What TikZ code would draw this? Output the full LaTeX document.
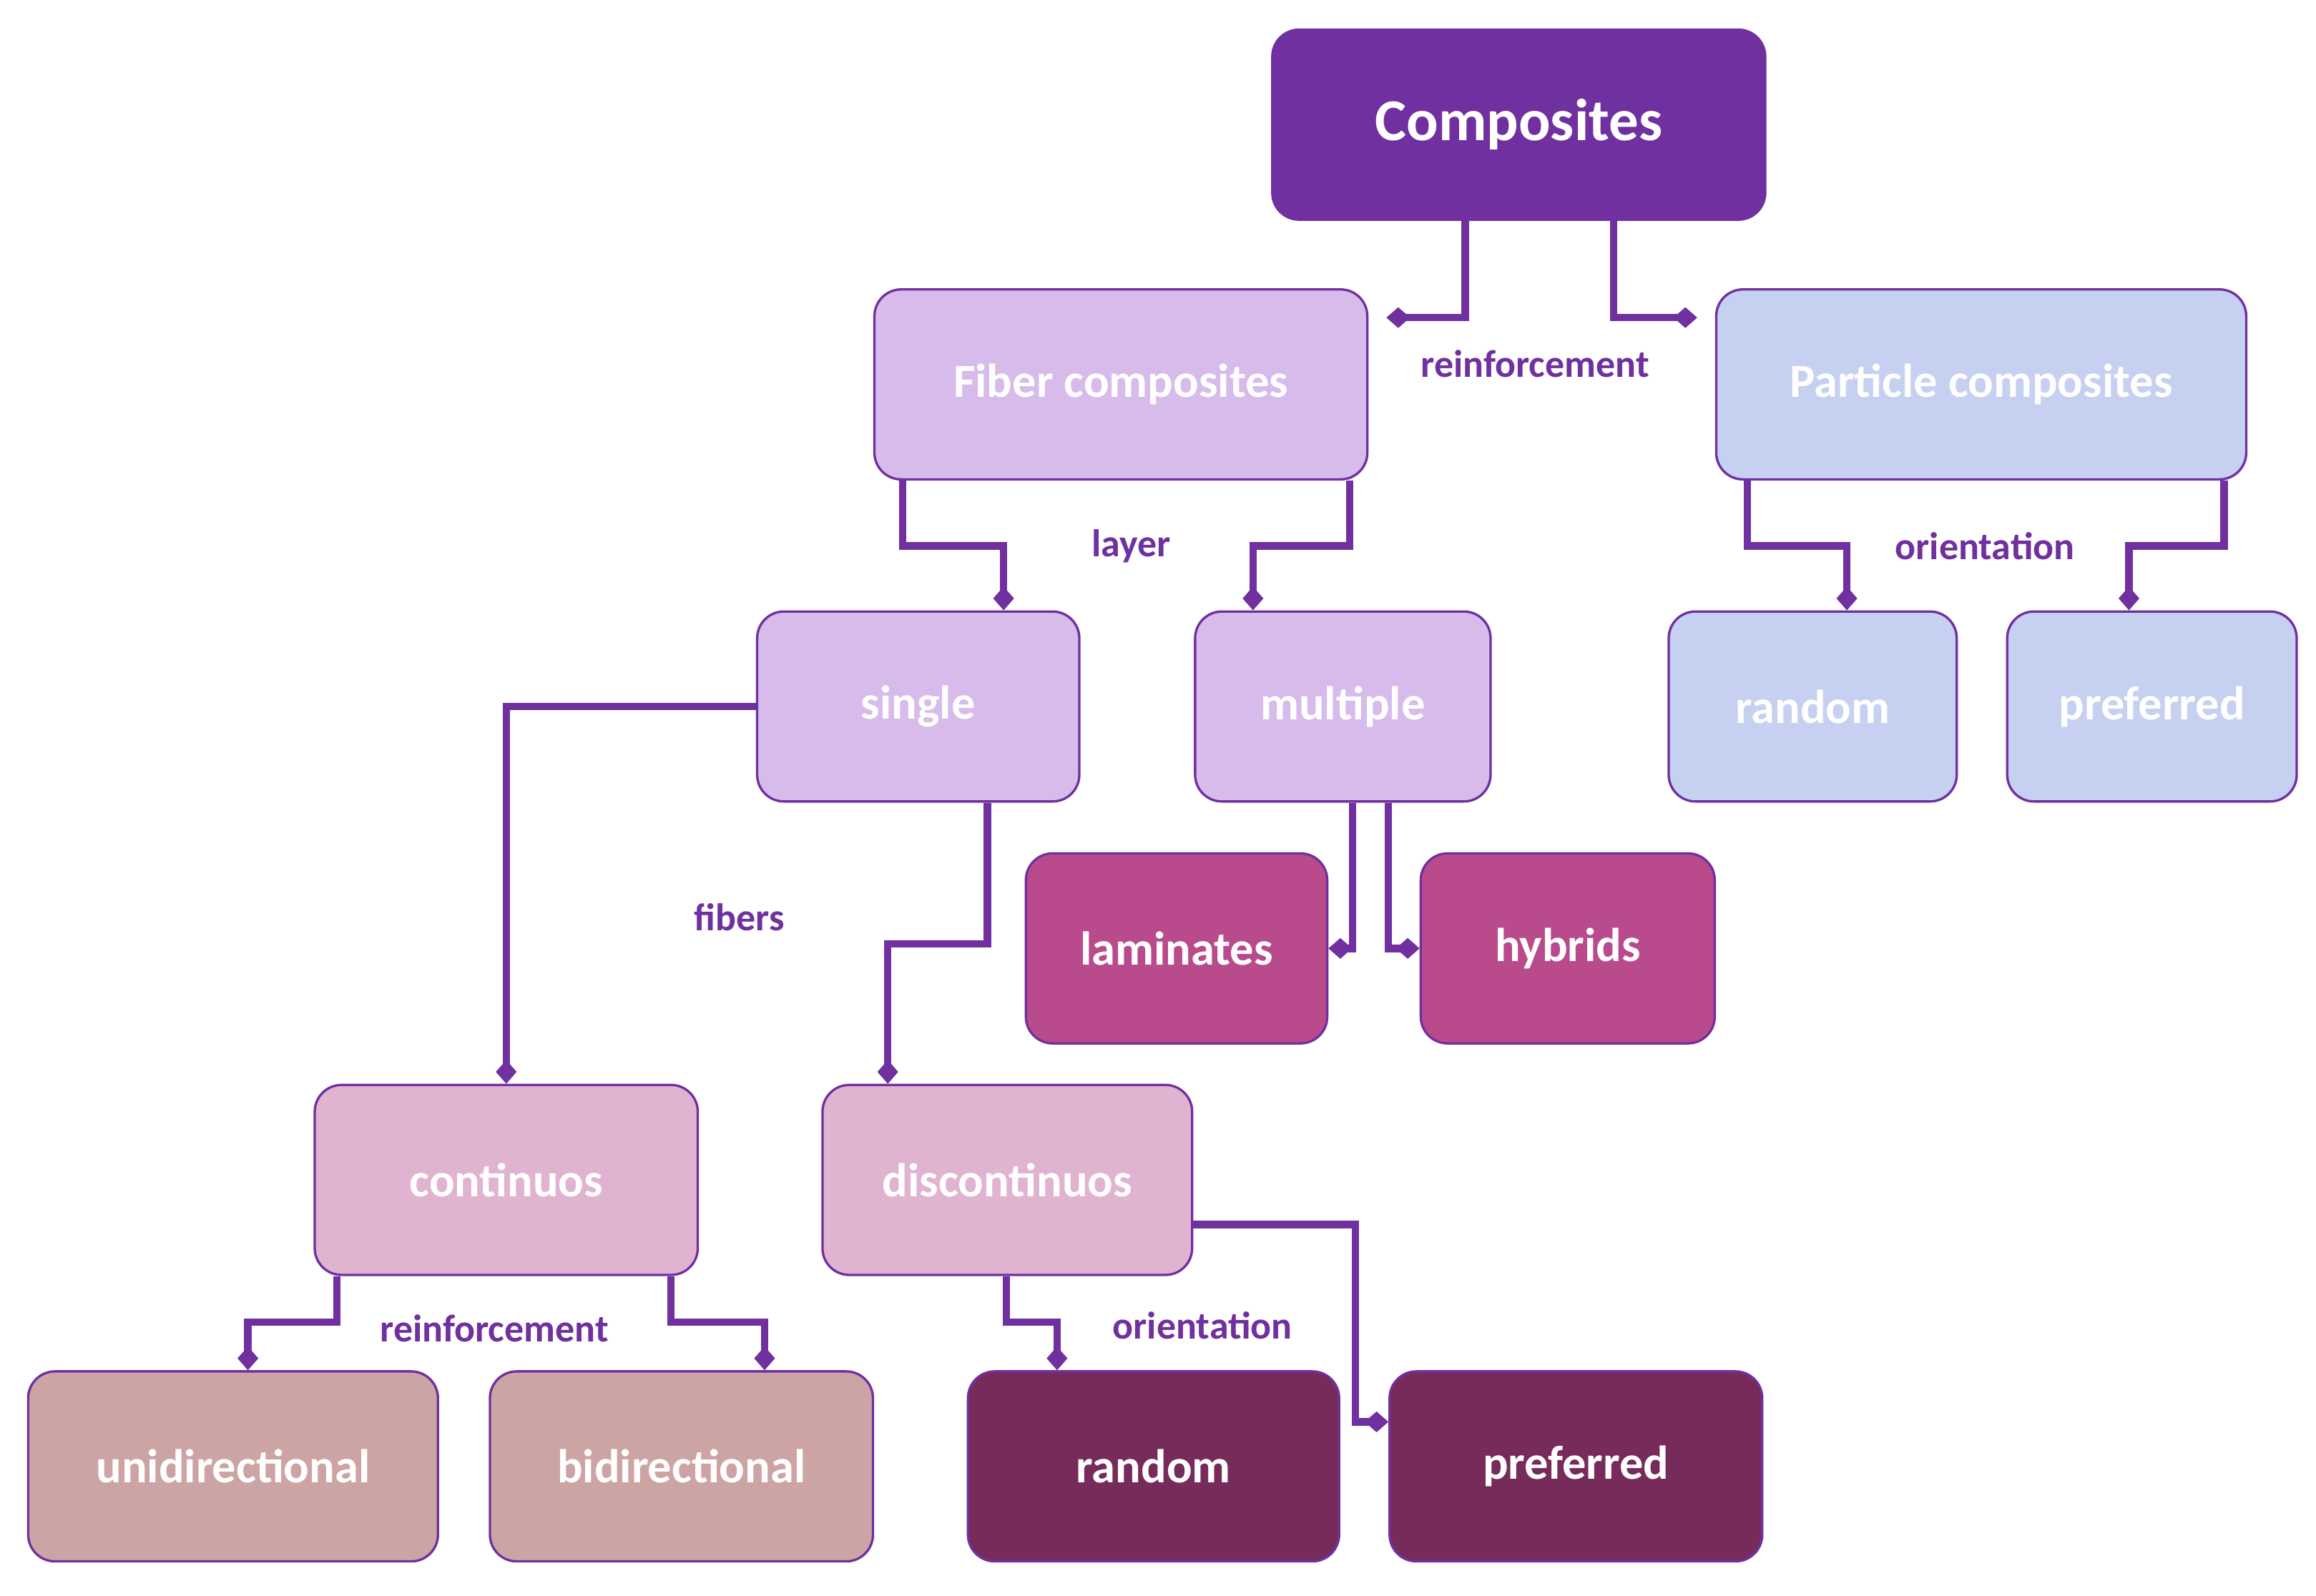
\documentclass[tikz,border=0pt]{standalone}
\usepackage{fontspec}
\setmainfont{Carlito}
\usetikzlibrary{arrows.meta}
\definecolor{pur}{HTML}{7030A0}
\definecolor{cFib}{HTML}{D7BBEA}
\definecolor{cPar}{HTML}{C6D0F0}
\definecolor{cLam}{HTML}{B94B8C}
\definecolor{cCon}{HTML}{E0B4D0}
\definecolor{cUni}{HTML}{CDA4A4}
\definecolor{cRan}{HTML}{772B5A}
\begin{document}
\begin{tikzpicture}[x=0.5pt,y=-0.5pt,
 box/.style={draw=pur,line width=0.8pt,rounded corners=9pt,minimum height=64pt,inner sep=0pt,text=white,font=\bfseries\fontsize{16}{18}\selectfont},
 conn/.style={draw=pur,line width=2.5pt,-{Diamond[length=8pt,width=7pt]}},
 lab/.style={text=pur,font=\bfseries\fontsize{13}{15}\selectfont}]
\useasboundingbox (0,0) rectangle (1560,1075);
\node[box,fill=pur,minimum width=166pt,font=\bfseries\fontsize{20}{24}\selectfont] (comp) at (1023,84) {Composites};
\node[box,fill=cFib,minimum width=166pt] (fib) at (755,259) {Fiber composites};
\node[box,fill=cPar,minimum width=178.5pt] (par) at (1334.5,259) {Particle composites};
\node[box,fill=cFib,minimum width=108.5pt] (sin) at (618.5,476) {single};
\node[box,fill=cFib,minimum width=99.5pt] (mul) at (904.5,476) {multiple};
\node[box,fill=cPar,minimum width=97pt] (rt) at (1221,476) {random};
\node[box,fill=cPar,minimum width=97.5pt] (pt) at (1449.5,476) {preferred};
\node[box,fill=cLam,minimum width=101.5pt] (lam) at (792.5,639) {laminates};
\node[box,fill=cLam,minimum width=99pt] (hyb) at (1056,639) {hybrids};
\node[box,fill=cCon,minimum width=129pt] (con) at (341,795) {continuos};
\node[box,fill=cCon,minimum width=124.5pt] (dis) at (678.5,795) {discontinuos};
\node[box,fill=cUni,minimum width=138pt] (uni) at (157,988) {unidirectional};
\node[box,fill=cUni,minimum width=129pt] (bid) at (459,988) {bidirectional};
\node[box,fill=cRan,minimum width=125pt] (rb) at (777,988) {random};
\node[box,fill=cRan,minimum width=125.5pt] (pb) at (1061.5,988) {preferred};

\coordinate (k1) at (0,214);
\draw[conn] (comp.south -| 987,0) |- ([xshift=6pt]fib.east |- k1);
\draw[conn] (comp.south -| 1087,0) |- ([xshift=-6pt]par.west |- k1);
\node[lab] (l1) at (1034,245) {reinforcement};

\draw[conn] (fib.south -| 608,0) -- ++(0,44) -| (sin.north -| 676,0);
\draw[conn] (fib.south -| 909,0) -- ++(0,44) -| (mul.north -| 844,0);
\node[lab] (l2) at (762,368) {layer};
\draw[conn] (par.south -| 1177,0) -- ++(0,44) -| (rt.north -| 1244,0);
\draw[conn] (par.south -| 1498,0) -- ++(0,44) -| (pt.north -| 1434,0);
\node[lab] (l3) at (1337,368) {orientation};

\draw[conn] (sin.west) -| (con.north);
\draw[conn] (sin.south -| 665,0) -- ++(0,95) -| (dis.north -| 598,0);
\node[lab] (l4) at (498,618) {fibers};

\draw[conn] (mul.south -| 911,0) |- (lam.east);
\draw[conn] (mul.south -| 935,0) |- (hyb.west);

\draw[conn] (con.south -| 227,0) -- ++(0,31) -| (uni.north -| 167,0);
\draw[conn] (con.south -| 452,0) -- ++(0,31) -| (bid.north -| 515,0);
\node[lab] (l5) at (333,895) {reinforcement};
\draw[conn] (dis.south -| 678,0) -- ++(0,31) -| (rb.north -| 712,0);
\draw[conn] (dis.east |- 0,825) -| (913,958) -- (pb.west |- 0,958);
\node[lab] (l6) at (810,893) {orientation};
\end{tikzpicture}
\end{document}
